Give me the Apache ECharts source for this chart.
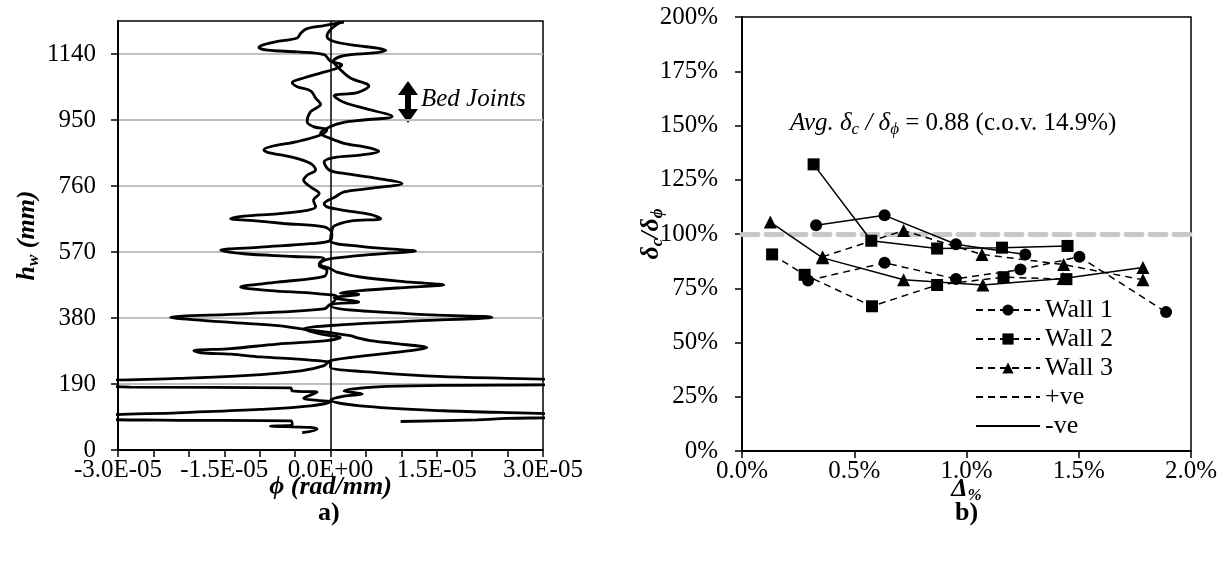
<!DOCTYPE html>
<html>
<head>
<meta charset="utf-8">
<script src="https://cdn.jsdelivr.net/npm/echarts@6.0.0/dist/echarts.min.js"></script>
<style>html,body{margin:0;padding:0;background:#fff}#box{width:1229px;height:567px}</style>
</head>
<body>
<div id="box"></div>
<script>
var FONT = 'Liberation Serif';

// a) curvature profiles, [h (mm), phi (rad/mm)]
var curveOne = [
  [1232,0.19e-5],[1222,-0.09e-5],[1213,-0.33e-5],[1200,-0.42e-5],[1186,-0.47e-5],[1176,-0.75e-5],[1167,-0.94e-5],
  [1159,-1.01e-5],[1151,-0.89e-5],[1146,-0.47e-5],[1138,-0.09e-5],[1119,0],[1109,0.16e-5],[1099,0.09e-5],
  [1085,-0.14e-5],[1071,-0.38e-5],[1058,-0.54e-5],[1046,-0.47e-5],[1034,-0.28e-5],[1013,-0.21e-5],[995,-0.14e-5],
  [974,-0.28e-5],[945,-0.33e-5],[931,-0.24e-5],[921,-0.05e-5],[907,-0.14e-5],[888,-0.47e-5],[873,-0.85e-5],
  [864,-0.94e-5],[857,-0.89e-5],[844,-0.56e-5],[825,-0.28e-5],[806,-0.21e-5],[791,-0.33e-5],[777,-0.38e-5],
  [757,-0.28e-5],[738,-0.16e-5],[719,-0.24e-5],[700,-0.21e-5],[690,-0.33e-5],[680,-0.75e-5],[673,-1.22e-5],
  [666,-1.41e-5],[661,-1.13e-5],[652,-0.66e-5],[642,-0.09e-5],[623,0.02e-5],[603,0],[594,-0.28e-5],
  [584,-0.99e-5],[575,-1.55e-5],[565,-1.22e-5],[557,-0.52e-5],[551,-0.09e-5],[536,-0.16e-5],[522,0],
  [512,0.09e-5],[498,0.42e-5],[483,1.13e-5],[475,1.60e-5],[469,1.13e-5],[459,0.42e-5],[452,0.14e-5],
  [448,0.40e-5],[438,0.05e-5],[426,0.40e-5],[419,0],[406,-0.09e-5],[392,-1.22e-5],[382,-2.26e-5],
  [368,-1.46e-5],[358,-0.75e-5],[348,-0.38e-5],[339,-0.05e-5],[329,0.28e-5],[322,0.40e-5],[315,0.56e-5],
  [307,0.89e-5],[294,1.36e-5],[286,1.13e-5],[271,0.47e-5],[257,0],[243,-0.09e-5],[228,-0.42e-5],
  [214,-1.22e-5],[206,-2.16e-5],[197,-3.2e-5],[188,-3.2e-5],[181,-2.83e-5],[179,-0.56e-5],[170,-0.54e-5],
  [166,-0.19e-5],[149,-0.38e-5],[143,-0.19e-5],[139,0],[127,-0.28e-5],[117,-0.99e-5],[107,-2.16e-5],
  [98,-3.2e-5],[90,-3.2e-5],[86,-2.40e-5],[84,-0.56e-5],[72,-0.54e-5],[69,-0.85e-5],[65,-0.28e-5],
  [60,-0.19e-5],[50,-0.40e-5]
];
var curveTwo = [
  [1232,0.14e-5],[1210,0],[1191,-0.05e-5],[1176,0.05e-5],[1164,0.38e-5],[1157,0.66e-5],[1150,0.78e-5],
  [1143,0.61e-5],[1135,0.19e-5],[1119,0.04e-5],[1095,0.14e-5],[1071,0.28e-5],[1048,0.54e-5],[1029,0.38e-5],
  [1020,0.05e-5],[1001,0.19e-5],[984,0.47e-5],[960,0.87e-5],[950,0.47e-5],[943,0.19e-5],[931,0],
  [912,-0.14e-5],[897,0],[883,0.19e-5],[870,0.55e-5],[860,0.68e-5],[849,0.42e-5],[842,0.05e-5],
  [830,-0.09e-5],[806,-0.02e-5],[796,0.19e-5],[782,0.66e-5],[767,1.01e-5],[753,0.56e-5],[743,0.19e-5],
  [729,0.07e-5],[709,-0.09e-5],[700,-0.05e-5],[690,0.19e-5],[678,0.56e-5],[666,0.71e-5],[659,0.28e-5],
  [645,0.05e-5],[632,0.02e-5],[603,0],[586,0.42e-5],[578,0.89e-5],[573,1.20e-5],[564,0.66e-5],
  [555,0.19e-5],[546,-0.09e-5],[531,-0.16e-5],[517,-0.05e-5],[500,-0.09e-5],[483,-0.75e-5],[469,-1.27e-5],
  [459,-0.85e-5],[450,-0.19e-5],[440,0.09e-5],[416,0],[392,1.13e-5],[382,2.28e-5],[371,1.13e-5],
  [361,0.19e-5],[348,-0.38e-5],[332,-0.09e-5],[324,0.14e-5],[315,-0.05e-5],[305,-0.75e-5],[292,-1.41e-5],
  [286,-1.93e-5],[280,-1.83e-5],[276,-1.41e-5],[268,-0.99e-5],[259,-0.28e-5],[249,0],[238,0],
  [223,0.66e-5],[211,1.60e-5],[199,3.2e-5],[189,3.2e-5],[186,1.60e-5],[182,0.66e-5],[170,0.19e-5],
  [161,0.45e-5],[155,0.19e-5],[144,0],[127,0.42e-5],[113,1.60e-5],[101,3.2e-5],[95,3.2e-5],
  [91,2.49e-5],[87,2.07e-5],[82,0.99e-5]
];
var hTicks = [0,190,380,570,760,950,1140];
var phiTicks = [-3e-5,-1.5e-5,0,1.5e-5,3e-5];

// b) drift ratio (%) vs deformation ratio (%)
var w1PosDrift = [0.294,0.635,0.953,1.24,1.503,1.889];
var w1PosRatio = [78.6,86.7,79.3,83.6,89.5,64.0];
var w1NegDrift = [0.33,0.635,0.953,1.262];
var w1NegRatio = [104.0,108.6,95.3,90.6];
var w2PosDrift = [0.134,0.279,0.579,0.869,1.165,1.445];
var w2PosRatio = [90.6,81.2,66.7,76.5,80.1,79.2];
var w2NegDrift = [0.319,0.576,0.869,1.158,1.45];
var w2NegRatio = [132.1,96.9,93.3,93.7,94.5];
var w3PosDrift = [0.359,0.72,1.069,1.433,1.786];
var w3PosRatio = [89.5,101.6,90.6,85.9,78.9];
var w3NegDrift = [0.126,0.359,0.72,1.073,1.43,1.786];
var w3NegRatio = [105.5,89.0,78.9,76.5,79.5,84.6];
var avgRatio = 100;

function zip(xs, ys) { return xs.map(function (x, i) { return [x, ys[i]]; }); }
function flip(c) { return c.map(function (p) { return [p[1], p[0]]; }); }
function sci(v) {
  if (Math.abs(v) < 1e-12) return '0.0E+00';
  var e = Math.floor(Math.log10(Math.abs(v)) + 1e-9);
  var m = v / Math.pow(10, e);
  var a = Math.abs(e);
  return m.toFixed(1) + 'E' + (e < 0 ? '-' : '+') + (a < 10 ? '0' : '') + a;
}

var lbl = {fontFamily: FONT, fontSize: 25, color: '#000'};
var nameRich = {
  n: {fontFamily: FONT, fontSize: 26, fontWeight: 'bold', fontStyle: 'italic', color: '#000'},
  s: {fontFamily: FONT, fontSize: 17, fontWeight: 'bold', fontStyle: 'italic', color: '#000', padding: [12, 0, 0, 0]}
};
var axLine = {show: true, onZero: false, lineStyle: {color: '#000', width: 2}};
var tick = {show: true, length: 7, lineStyle: {color: '#000', width: 1.5}};

function wall(name, drift, ratio, symbol, dashed) {
  return {
    name: name, type: 'line', xAxisIndex: 1, yAxisIndex: 1,
    data: zip(drift, ratio),
    symbol: symbol, symbolSize: symbol === 'triangle' ? 13 : 12,
    itemStyle: {color: '#000'},
    lineStyle: {color: '#000', width: 1.5, type: dashed ? [7, 5] : 'solid'},
    emphasis: {disabled: true}, z: 3
  };
}

var myChart = echarts.init(document.getElementById('box'));
var option = {
  animation: false,
  backgroundColor: '#fff',
  grid: [
    {left: 118, top: 21, width: 425, height: 429, show: true, borderColor: '#000', borderWidth: 1.5},
    {left: 742, top: 17, width: 449, height: 434, show: true, borderColor: '#000', borderWidth: 1.5}
  ],
  xAxis: [
    {
      gridIndex: 0, type: 'value', min: -3e-5, max: 3e-5, interval: 0.5e-5,
      axisLine: axLine, axisTick: tick, splitLine: {show: false},
      axisLabel: Object.assign({customValues: phiTicks, formatter: sci, margin: 8}, lbl),
      name: '{n|ϕ (rad/mm)}', nameLocation: 'middle', nameGap: 24, nameMoveOverlap: false,
      nameTextStyle: {rich: nameRich}
    },
    {
      gridIndex: 1, type: 'value', min: 0, max: 2, interval: 0.5,
      axisLine: axLine, axisTick: tick, splitLine: {show: false},
      axisLabel: Object.assign({formatter: function (v) { return v.toFixed(1) + '%'; }, margin: 8}, lbl),
      name: '{n|Δ}{s|%}', nameLocation: 'middle', nameGap: 24, nameMoveOverlap: false,
      nameTextStyle: {rich: nameRich}
    }
  ],
  yAxis: [
    {
      gridIndex: 0, type: 'value', min: 0, max: 1235, interval: 95,
      axisLine: axLine,
      axisTick: Object.assign({customValues: hTicks}, tick),
      axisLabel: Object.assign({customValues: hTicks, margin: 22,
        formatter: function (v) { return v % 190 === 0 ? String(v) : ''; }}, lbl),
      splitLine: {show: true, lineStyle: {color: '#c0c0c0', width: 2}},
      name: '{n|h}{s|w}{n| (mm)}', nameLocation: 'middle', nameRotate: 90, nameGap: 76,
      nameMoveOverlap: false,
      nameTextStyle: {rich: nameRich}
    },
    {
      gridIndex: 1, type: 'value', min: 0, max: 200, interval: 25,
      axisLine: axLine, axisTick: tick, splitLine: {show: false},
      axisLabel: Object.assign({formatter: '{value}%', margin: 24}, lbl),
      name: '{n|δ}{s|c}{n|/δ}{s|ϕ}', nameLocation: 'middle', nameRotate: 90, nameGap: 76,
      nameMoveOverlap: false,
      nameTextStyle: {rich: nameRich}
    }
  ],
  legend: {
    data: ['Wall 1', 'Wall 2', 'Wall 3',
      {name: '+ve', itemStyle: {opacity: 0}},
      {name: '-ve', itemStyle: {opacity: 0}}],
    orient: 'vertical', left: 970, top: 292,
    itemWidth: 64, itemHeight: 14, itemGap: 3,
    textStyle: {fontFamily: FONT, fontSize: 26, color: '#000', lineHeight: 26},
    selectedMode: false
  },
  graphic: [
    {type: 'text', left: 318, top: 500, style: {text: 'a)', font: 'bold 26px "Liberation Serif"', fill: '#000'}},
    {type: 'text', left: 955, top: 500, style: {text: 'b)', font: 'bold 26px "Liberation Serif"', fill: '#000'}},
    {type: 'text', left: 421, top: 87, style: {text: 'Bed Joints', font: 'italic 25px "Liberation Serif"', fill: '#000'}},
    {
      type: 'polygon', silent: true,
      shape: {points: [[408, 81], [418, 95], [411, 95], [411, 109], [418, 109], [408, 123],
        [398, 109], [405, 109], [405, 95], [398, 95]]},
      style: {fill: '#000'}
    },
    {
      type: 'text', left: 790, top: 111,
      style: {
        text: '{i|Avg. δ}{is|c}{i| / δ}{is|ϕ}{n| = 0.88 (c.o.v. 14.9%)}',
        rich: {
          i: {fontFamily: FONT, fontSize: 25, fontStyle: 'italic', fill: '#000'},
          is: {fontFamily: FONT, fontSize: 17, fontStyle: 'italic', fill: '#000', padding: [12, 0, 0, 0]},
          n: {fontFamily: FONT, fontSize: 25, fill: '#000'}
        }
      }
    }
  ],
  series: [
    {
      name: 'curveOne', type: 'line', xAxisIndex: 0, yAxisIndex: 0,
      data: flip(curveOne), symbol: 'none', smooth: 0.35,
      lineStyle: {color: '#000', width: 2.8},
      markLine: {
        silent: true, symbol: 'none', label: {show: false},
        lineStyle: {color: '#000', width: 1.5, type: 'solid'},
        data: [{xAxis: 0}]
      }
    },
    {
      name: 'curveTwo', type: 'line', xAxisIndex: 0, yAxisIndex: 0,
      data: flip(curveTwo), symbol: 'none', smooth: 0.35,
      lineStyle: {color: '#000', width: 2.8}
    },
    Object.assign(wall('Wall 1', w1PosDrift, w1PosRatio, 'circle', true), {
      markLine: {
        silent: true, symbol: 'none', label: {show: false}, z: 1,
        lineStyle: {color: '#c8c8c8', width: 5, type: [16, 8], cap: 'round'},
        data: [{yAxis: avgRatio}]
      }
    }),
    wall('Wall 1', w1NegDrift, w1NegRatio, 'circle', false),
    wall('Wall 2', w2PosDrift, w2PosRatio, 'rect', true),
    wall('Wall 2', w2NegDrift, w2NegRatio, 'rect', false),
    wall('Wall 3', w3PosDrift, w3PosRatio, 'triangle', true),
    wall('Wall 3', w3NegDrift, w3NegRatio, 'triangle', false),
    {name: '+ve', type: 'line', xAxisIndex: 1, yAxisIndex: 1, data: [], symbol: 'none',
      itemStyle: {color: '#000'}, lineStyle: {color: '#000', width: 1.5, type: [7, 5]}},
    {name: '-ve', type: 'line', xAxisIndex: 1, yAxisIndex: 1, data: [], symbol: 'none',
      itemStyle: {color: '#000'}, lineStyle: {color: '#000', width: 1.5, type: 'solid'}}
  ]
};
myChart.setOption(option);
</script>
</body>
</html>
